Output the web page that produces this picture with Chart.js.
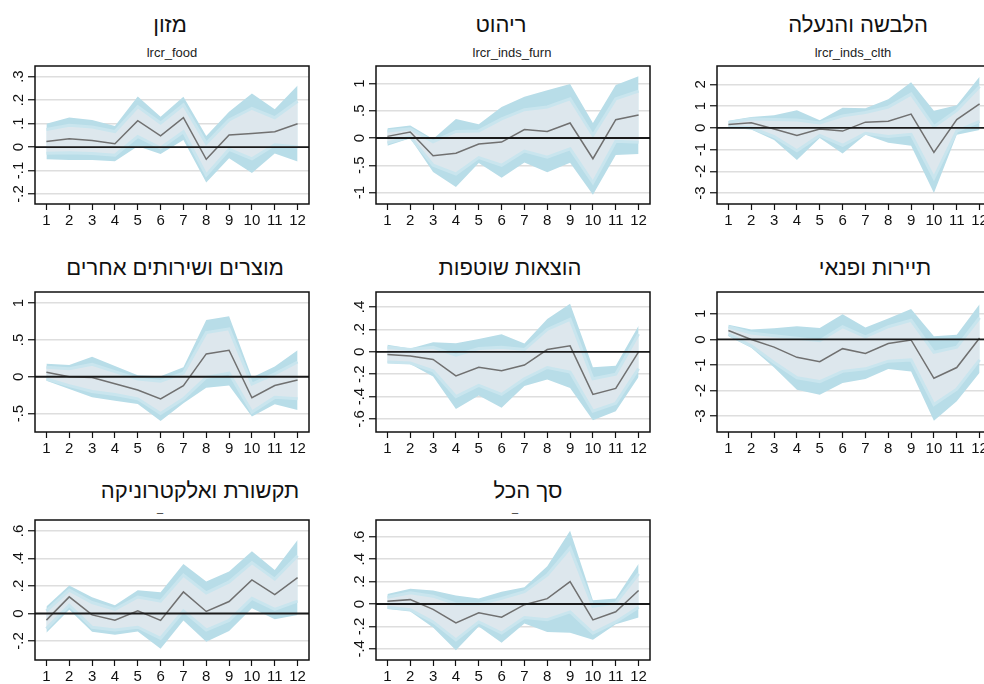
<!DOCTYPE html>
<html>
<head>
<meta charset="utf-8">
<script src="https://cdn.jsdelivr.net/npm/chart.js@4.4.1/dist/chart.umd.min.js"></script>
<style>
  html, body { margin: 0; padding: 0; background: #fff; width: 984px; height: 684px; overflow: hidden; position: relative;
    font-family: "Liberation Sans", Arial, Helvetica, sans-serif; }
  .title { position: absolute; font-size: 22px; color: #111; white-space: nowrap; transform: translateX(-50%); direction: rtl; line-height: 1; }
  .sub { position: absolute; font-size: 13px; color: #222; white-space: nowrap; transform: translateX(-50%); line-height: 1; }
  canvas { position: absolute; }
</style>
</head>
<body>
<script>
// Horizon (months after the shock)
const steps = [1, 2, 3, 4, 5, 6, 7, 8, 9, 10, 11, 12];

// Food
const foodMid   = [0.024, 0.035, 0.028, 0.014, 0.112, 0.048, 0.125, -0.052, 0.051, 0.058, 0.065, 0.099];
const foodOutHi = [0.099, 0.126, 0.115, 0.090, 0.215, 0.129, 0.214, 0.047, 0.150, 0.228, 0.161, 0.262];
const foodOutLo = [-0.052, -0.055, -0.055, -0.061, 0.003, -0.030, 0.030, -0.151, -0.048, -0.110, -0.027, -0.062];
const foodInHi  = [0.075, 0.093, 0.085, 0.066, 0.172, 0.102, 0.180, 0.016, 0.115, 0.165, 0.125, 0.195];
const foodInLo  = [-0.026, -0.024, -0.028, -0.035, 0.045, -0.004, 0.065, -0.120, -0.010, -0.050, 0.010, 0.000];
const foodTicks = [-0.2, -0.1, 0, 0.1, 0.2, 0.3];

// Furniture
const furnMid   = [0.03, 0.11, -0.325, -0.28, -0.11, -0.075, 0.155, 0.12, 0.275, -0.38, 0.335, 0.42];
const furnOutHi = [0.18, 0.23, -0.02, 0.35, 0.25, 0.57, 0.755, 0.875, 0.99, 0.275, 0.97, 1.13];
const furnOutLo = [-0.14, -0.005, -0.625, -0.9, -0.46, -0.73, -0.45, -0.63, -0.455, -1.04, -0.31, -0.295];
const furnInHi  = [0.13, 0.17, -0.07, 0.12, 0.13, 0.35, 0.52, 0.57, 0.72, 0.05, 0.72, 0.86];
const furnInLo  = [-0.09, 0.02, -0.5, -0.66, -0.36, -0.5, -0.24, -0.35, -0.2, -0.82, -0.06, -0.08];
const furnTicks = [-1, -0.5, 0, 0.5, 1];

// Clothing and footwear
const clthMid   = [0.15, 0.23, -0.05, -0.35, -0.05, -0.15, 0.26, 0.30, 0.63, -1.13, 0.38, 1.10];
const clthOutHi = [0.32, 0.50, 0.58, 0.81, 0.35, 0.92, 0.90, 1.31, 2.09, 0.78, 1.04, 2.35];
const clthOutLo = [0.0, -0.08, -0.56, -1.48, -0.47, -1.18, -0.32, -0.69, -0.82, -3.0, -0.32, -0.10];
const clthInHi  = [0.25, 0.40, 0.38, 0.36, 0.22, 0.55, 0.70, 0.95, 1.55, 0.05, 0.80, 1.90];
const clthInLo  = [0.05, 0.0, -0.40, -1.05, -0.35, -0.80, -0.25, -0.40, -0.30, -2.30, -0.15, 0.30];
const clthTicks = [-3, -2, -1, 0, 1, 2];

// Other goods and services
const otherMid   = [0.06, 0.0, -0.01, -0.095, -0.18, -0.30, -0.12, 0.31, 0.36, -0.285, -0.12, -0.045];
const otherOutHi = [0.175, 0.16, 0.27, 0.145, 0.02, 0.005, 0.13, 0.77, 0.82, -0.01, 0.14, 0.36];
const otherOutLo = [-0.055, -0.165, -0.28, -0.325, -0.37, -0.60, -0.36, -0.15, -0.12, -0.54, -0.375, -0.45];
const otherInHi  = [0.13, 0.11, 0.17, 0.07, -0.03, -0.06, 0.05, 0.60, 0.65, -0.10, 0.04, 0.20];
const otherInLo  = [-0.03, -0.12, -0.20, -0.24, -0.30, -0.50, -0.30, -0.01, 0.05, -0.48, -0.28, -0.30];
const otherTicks = [-0.5, 0, 0.5, 1];

// Current expenses
const currMid   = [-0.024, -0.038, -0.068, -0.215, -0.138, -0.17, -0.118, 0.02, 0.053, -0.38, -0.327, 0.0];
const currOutHi = [0.062, 0.03, 0.085, 0.077, 0.115, 0.156, 0.074, 0.294, 0.43, -0.138, -0.124, 0.232];
const currOutLo = [-0.103, -0.109, -0.22, -0.51, -0.39, -0.50, -0.305, -0.247, -0.324, -0.61, -0.53, -0.226];
const currInHi  = [0.04, 0.02, 0.04, -0.03, 0.03, 0.04, 0.02, 0.20, 0.29, -0.24, -0.20, 0.16];
const currInLo  = [-0.09, -0.10, -0.17, -0.40, -0.30, -0.38, -0.24, -0.14, -0.18, -0.53, -0.46, -0.15];
const currTicks = [-0.6, -0.4, -0.2, 0, 0.2, 0.4];

// Tourism and leisure
const tourMid   = [0.35, 0.0, -0.30, -0.70, -0.87, -0.36, -0.55, -0.16, -0.02, -1.52, -1.10, 0.06];
const tourOutHi = [0.58, 0.39, 0.44, 0.52, 0.45, 0.99, 0.47, 0.82, 1.19, 0.13, 0.19, 1.38];
const tourOutLo = [0.13, -0.32, -1.10, -1.97, -2.17, -1.71, -1.55, -1.16, -1.25, -3.18, -2.42, -1.30];
const tourInHi  = [0.50, 0.25, 0.15, 0.05, -0.05, 0.50, 0.10, 0.50, 0.75, -0.50, -0.30, 0.85];
const tourInLo  = [0.20, -0.25, -0.90, -1.50, -1.65, -1.25, -1.15, -0.85, -0.80, -2.55, -1.95, -0.80];
const tourTicks = [-3, -2, -1, 0, 1];

// Communication and electronics
const commMid   = [-0.048, 0.121, -0.01, -0.048, 0.019, -0.05, 0.157, 0.015, 0.087, 0.244, 0.138, 0.261];
const commOutHi = [0.051, 0.203, 0.118, 0.06, 0.17, 0.155, 0.36, 0.232, 0.305, 0.452, 0.317, 0.535];
const commOutLo = [-0.14, 0.027, -0.133, -0.155, -0.13, -0.256, -0.05, -0.206, -0.128, 0.039, -0.041, -0.01];
const commInHi  = [0.02, 0.17, 0.08, 0.03, 0.12, 0.09, 0.28, 0.15, 0.23, 0.37, 0.25, 0.42];
const commInLo  = [-0.11, 0.06, -0.10, -0.12, -0.10, -0.18, 0.02, -0.12, -0.05, 0.11, 0.03, 0.09];
const commTicks = [-0.2, 0, 0.2, 0.4, 0.6];

// Total
const totMid   = [0.024, 0.039, -0.048, -0.169, -0.078, -0.118, -0.006, 0.048, 0.20, -0.142, -0.069, 0.12];
const totOutHi = [0.09, 0.136, 0.12, 0.075, 0.048, 0.11, 0.15, 0.338, 0.654, 0.033, 0.048, 0.36];
const totOutLo = [-0.045, -0.066, -0.21, -0.413, -0.20, -0.347, -0.175, -0.25, -0.256, -0.32, -0.18, -0.12];
const totInHi  = [0.06, 0.10, 0.07, 0.0, 0.0, 0.05, 0.11, 0.26, 0.50, -0.02, 0.01, 0.27];
const totInLo  = [-0.03, -0.05, -0.16, -0.32, -0.16, -0.26, -0.12, -0.14, -0.07, -0.26, -0.16, -0.03];
const totTicks = [-0.4, -0.2, 0, 0.2, 0.4, 0.6];

// Panel titles and variable names
const titles = ['מזון', 'ריהוט', 'הלבשה והנעלה', 'מוצרים ושירותים אחרים', 'הוצאות שוטפות', 'תיירות ופנאי', 'תקשורת ואלקטרוניקה', 'סך הכל'];
const varNames = ['lrcr_food', 'lrcr_inds_furn', 'lrcr_inds_clth', '', '', '', '', ''];

// ---- layout ----
const COL_LEFT = [35, 376, 717];
const ROW_TOP = [66, 292, 520];
const ROW_H = [138, 140, 140];
const PLOT_W = 274;
const YAXIS_W = 35;
const XAXIS_H = 30;
const PAD = 2;

const panels = [
  { mid: foodMid, oHi: foodOutHi, oLo: foodOutLo, iHi: foodInHi, iLo: foodInLo, ticks: foodTicks, min: -0.2425, max: 0.345, col: 0, row: 0, tx: 170, sx: 172 },
  { mid: furnMid, oHi: furnOutHi, oLo: furnOutLo, iHi: furnInHi, iLo: furnInLo, ticks: furnTicks, min: -1.21, max: 1.32, col: 1, row: 0, tx: 501, sx: 512 },
  { mid: clthMid, oHi: clthOutHi, oLo: clthOutLo, iHi: clthInHi, iLo: clthInLo, ticks: clthTicks, min: -3.5, max: 2.84, col: 2, row: 0, tx: 858, sx: 853 },
  { mid: otherMid, oHi: otherOutHi, oLo: otherOutLo, iHi: otherInHi, iLo: otherInLo, ticks: otherTicks, min: -0.75, max: 1.15, col: 0, row: 1, tx: 175 },
  { mid: currMid, oHi: currOutHi, oLo: currOutLo, iHi: currInHi, iLo: currInLo, ticks: currTicks, min: -0.716, max: 0.534, col: 1, row: 1, tx: 510 },
  { mid: tourMid, oHi: tourOutHi, oLo: tourOutLo, iHi: tourInHi, iLo: tourInLo, ticks: tourTicks, min: -3.625, max: 1.86, col: 2, row: 1, tx: 875 },
  { mid: commMid, oHi: commOutHi, oLo: commOutLo, iHi: commInHi, iLo: commInLo, ticks: commTicks, min: -0.338, max: 0.68, col: 0, row: 2, tx: 200, mark: 160 },
  { mid: totMid, oHi: totOutHi, oLo: totOutLo, iHi: totInHi, iLo: totInLo, ticks: totTicks, min: -0.5, max: 0.75, col: 1, row: 2, tx: 528, mark: 515 }
];
const TITLE_CY = [25, 268, 491];

const FONT = '"Liberation Sans", Arial, Helvetica, sans-serif';
const OUTER_FILL = 'rgb(184,221,232)';
const INNER_FILL = 'rgb(221,231,237)';
const INNER_EDGE = 'rgb(201,229,238)';
const MID_LINE = 'rgb(112,112,112)';
const GRID = 'rgb(222,222,222)';

// Stata-style numbers: .5, -.2, 0, 1
function fmt(v) {
  if (Math.abs(v) < 1e-9) return '0';
  let s = String(+v.toFixed(3));
  return s.replace(/^(-?)0\./, '$1.');
}

function pts(arr) { return steps.map((s, i) => ({ x: s, y: arr[i] })); }

// Frame, zero line and vertical tick labels
const framePlugin = {
  id: 'frame',
  afterDatasetsDraw(chart) {
    const { ctx, chartArea: a, scales } = chart;
    const y0 = scales.y.getPixelForValue(0);
    ctx.save();
    ctx.strokeStyle = '#1a1a1a';
    ctx.lineWidth = 1.8;
    ctx.beginPath();
    ctx.moveTo(a.left, y0);
    ctx.lineTo(a.right, y0);
    ctx.stroke();
    ctx.lineWidth = 1.5;
    ctx.strokeStyle = '#111';
    ctx.strokeRect(a.left, a.top, a.right - a.left, a.bottom - a.top);
    ctx.restore();
  },
  afterDraw(chart) {
    const { ctx, chartArea: a, scales } = chart;
    const ys = scales.y;
    ctx.save();
    ctx.fillStyle = '#111';
    ctx.font = '15px ' + FONT;
    ctx.textAlign = 'center';
    ctx.textBaseline = 'middle';
    ys.ticks.forEach(t => {
      const py = ys.getPixelForValue(t.value);
      ctx.save();
      ctx.translate(a.left - 16, py);
      ctx.rotate(-Math.PI / 2);
      ctx.fillText(fmt(t.value), 0, 0);
      ctx.restore();
    });
    ctx.restore();
  }
};

panels.forEach((p, idx) => {
  const left = COL_LEFT[p.col];
  const top = ROW_TOP[p.row];
  const h = ROW_H[p.row];

  const t = document.createElement('div');
  t.className = 'title';
  t.textContent = titles[idx];
  t.style.left = p.tx + 'px';
  t.style.top = (TITLE_CY[p.row] - 11) + 'px';
  document.body.appendChild(t);

  if (varNames[idx]) {
    const s = document.createElement('div');
    s.className = 'sub';
    s.textContent = varNames[idx];
    s.style.left = p.sx + 'px';
    s.style.top = '46px';
    document.body.appendChild(s);
  }
  if (p.mark) {
    const m = document.createElement('div');
    m.className = 'sub';
    m.textContent = '_';
    m.style.left = p.mark + 'px';
    m.style.top = '503px';
    m.style.fontSize = '11px';
    document.body.appendChild(m);
  }

  const cv = document.createElement('canvas');
  const cw = YAXIS_W + PLOT_W + PAD;
  const ch = PAD + h + XAXIS_H;
  cv.width = cw; cv.height = ch;
  cv.style.width = cw + 'px'; cv.style.height = ch + 'px';
  cv.style.left = (left - YAXIS_W) + 'px';
  cv.style.top = (top - PAD) + 'px';
  document.body.appendChild(cv);

  const line = (data, extra) => Object.assign({
    data: pts(data), pointRadius: 0, borderWidth: 0, tension: 0, fill: false, borderColor: 'rgba(0,0,0,0)'
  }, extra);

  new Chart(cv.getContext('2d'), {
    type: 'line',
    data: {
      datasets: [
        line(p.mid, { borderColor: MID_LINE, borderWidth: 1.5 }),
        line(p.iHi, { fill: '+1', backgroundColor: INNER_FILL, borderColor: INNER_EDGE, borderWidth: 3 }),
        line(p.iLo, { borderColor: INNER_EDGE, borderWidth: 3 }),
        line(p.oHi, { fill: '+1', backgroundColor: OUTER_FILL }),
        line(p.oLo, {})
      ]
    },
    options: {
      responsive: false,
      animation: false,
      devicePixelRatio: 1,
      layout: { padding: { top: PAD, right: PAD, left: 0, bottom: 0 } },
      plugins: {
        legend: { display: false },
        tooltip: { enabled: false },
        filler: { drawTime: 'beforeDatasetsDraw' }
      },
      scales: {
        x: {
          type: 'linear', min: 0.5, max: 12.5,
          afterBuildTicks: s => { s.ticks = steps.map(v => ({ value: v })); },
          afterFit: s => { s.height = XAXIS_H; },
          border: { display: false },
          grid: { drawOnChartArea: false, drawTicks: true, tickLength: 6, tickColor: '#111', tickWidth: 1.2 },
          ticks: { color: '#111', font: { family: FONT, size: 15 }, padding: 2, maxRotation: 0, minRotation: 0, autoSkip: false }
        },
        y: {
          type: 'linear', min: p.min, max: p.max,
          afterBuildTicks: s => { s.ticks = p.ticks.map(v => ({ value: v })); },
          afterFit: s => { s.width = YAXIS_W; },
          border: { display: false },
          grid: { color: GRID, lineWidth: 1.5, drawTicks: true, tickLength: 7, tickColor: '#111', tickWidth: 1.2 },
          ticks: { display: false }
        }
      }
    },
    plugins: [framePlugin]
  });
});
</script>
</body>
</html>
